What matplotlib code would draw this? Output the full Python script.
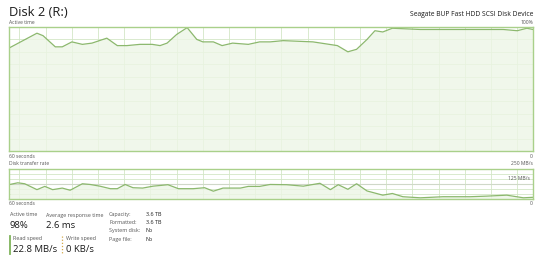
import matplotlib
matplotlib.use('Agg')
import matplotlib.pyplot as plt

FONT = 'Open Sans'
DARK = '#1a1a1a'
GRAY = '#555555'
LINE_GREEN = '#8cb86e'
BORDER_GREEN = '#a9d08a'
FILL_GREEN = '#edf6e6'
GRID_GREEN = '#d3e6c6'

# Active time (%), seconds from the left edge of the 60 s window
active_t = [0, 3.2, 3.9, 5.3, 6.1, 7.2, 8.4, 9.5, 11.2, 12.4, 13.5, 15.0, 16.4, 17.3,
            18.1, 19.2, 20.4, 21.5, 22.2, 23.4, 24.4, 25.6, 27.4, 28.7, 29.9, 31.4,
            34.8, 37.6, 38.8, 39.8, 41.0, 41.9, 42.8, 43.9, 47.1, 50.2, 52.8, 56.6,
            58.2, 59.3, 60]
active_pct = [83, 95, 93, 84, 84, 88, 86, 87, 91, 85, 85, 86, 86, 85,
              87, 94, 99.5, 90, 88, 88, 85, 87, 86, 88, 88, 89,
              88, 85, 80, 82, 90, 97, 96, 99, 98, 98, 98, 98,
              97, 99, 98]

# Disk transfer rate (MB/s)
rate_t = [0.1, 1.0, 1.8, 3.2, 4.1, 5.0, 6.1, 7.0, 8.4, 9.3, 10.4, 11.6, 12.4, 13.3,
          14.2, 15.3, 16.5, 18.2, 19.4, 21.1, 22.4, 23.4, 24.5, 26.5, 27.4, 28.7,
          29.9, 31.8, 33.7, 35.6, 36.8, 37.7, 38.8, 39.8, 41.0, 42.8, 43.9, 45.1,
          47.1, 49.7, 52.8, 54.7, 57.0, 58.9, 60]
rate_mbs = [121, 135, 127, 78, 105, 78, 91, 73, 127, 121, 107, 86, 86, 121,
            94, 91, 107, 119, 86, 86, 94, 65, 91, 91, 105, 105,
            121, 119, 107, 131, 78, 119, 81, 127, 67, 32, 46, 19,
            10, 19, 19, 24, 32, 10, 14]

W, H = 540, 258
fig = plt.figure(figsize=(W / 100, H / 100), dpi=100)
fig.patch.set_facecolor('white')


def box(x0, y0, x1, y1):
    return [x0 / W, 1 - y1 / H, (x1 - x0) / W, (y1 - y0) / H]


def label(x, y, s, size=3.6, color=GRAY, ha='left', **kw):
    fig.text(x / W, 1 - y / H, s, fontsize=size, color=color, ha=ha, va='center',
             fontfamily=FONT, **kw)


def style_graph(ax, ymax, ystep):
    ax.set_xlim(0, 60)
    ax.set_ylim(0, ymax)
    ax.set_facecolor('white')
    ax.set_xticks([1.2 + 3 * k for k in range(20)])
    ax.set_yticks([ystep * k for k in range(1, int(round(ymax / ystep)))])
    ax.grid(True, color=GRID_GREEN, lw=0.6)
    ax.tick_params(length=0, labelbottom=False, labelleft=False)
    for s in ax.spines.values():
        s.set_color(BORDER_GREEN)
        s.set_linewidth(1.0)
    ax.set_axisbelow(True)


# Active time graph
ax1 = fig.add_axes(box(9, 27, 533, 151))
style_graph(ax1, 100, 10)
ax1.fill_between(active_t, active_pct, 0, color=FILL_GREEN, alpha=0.8, lw=0)
ax1.plot(active_t, active_pct, color=LINE_GREEN, lw=0.9)

# Transfer rate graph
ax2 = fig.add_axes(box(9, 169, 533, 199))
style_graph(ax2, 250, 250 / 6)
ax2.fill_between(rate_t, rate_mbs, 0, color=FILL_GREEN, alpha=0.8, lw=0)
ax2.axhline(125, color='#cfd8c8', lw=0.8)
ax2.plot(rate_t, rate_mbs, color=LINE_GREEN, lw=0.9)

# Header
label(9, 12, 'Disk 2 (R:)', size=9.3, color=DARK)
label(533, 14, 'Seagate BUP Fast HDD SCSI Disk Device', size=4.9, color=DARK, ha='right')

# Graph captions
label(9, 23, 'Active time')
label(533, 23, '100%', ha='right')
label(9, 156, '60 seconds')
label(533, 156, '0', ha='right')
label(9, 163.5, 'Disk transfer rate')
label(533, 163.5, '250 MB/s', ha='right')
label(530, 179, '125 MB/s', ha='right')
label(9, 203.5, '60 seconds')
label(533, 203.5, '0', ha='right')

# Stats
label(10, 215, 'Active time', size=3.9)
label(10, 226, '98%', size=6.8, color=DARK)
label(46, 215, 'Average response time', size=3.9)
label(46, 226, '2.6 ms', size=6.8, color=DARK)

props = [('Capacity:', '3.6 TB'), ('Formatted:', '3.6 TB'),
         ('System disk:', 'No'), ('Page file:', 'No')]
for i, (k, v) in enumerate(props):
    y = 214.3 + i * 8.3
    label(109, y, k, size=3.9)
    label(145.5, y, v, size=3.9, color=DARK)

fig.add_artist(plt.Line2D([9.8 / W] * 2, [1 - 236 / H, 1 - 253.5 / H],
                          color='#7fb35a', lw=1.3))
fig.add_artist(plt.Line2D([61.8 / W] * 2, [1 - 236 / H, 1 - 253.5 / H],
                          color='#d4a94a', lw=0.9, ls=(0, (1, 1.5))))
label(13, 238.5, 'Read speed', size=3.9)
label(13, 249, '22.8 MB/s', size=6.8, color=DARK)
label(66, 238.5, 'Write speed', size=3.9)
label(66, 249, '0 KB/s', size=6.8, color=DARK)

fig.savefig('out.png', dpi=100, facecolor='white')
